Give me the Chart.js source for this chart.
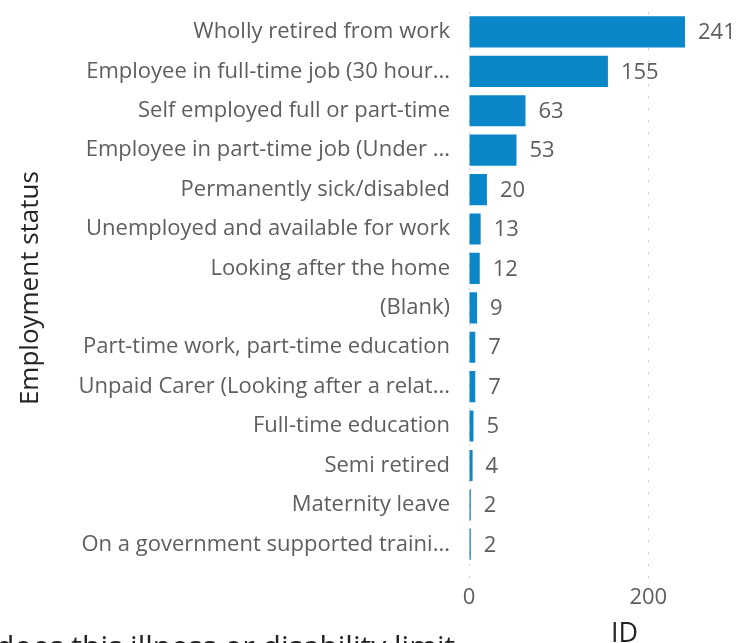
<!DOCTYPE html>
<html>
<head>
<meta charset="utf-8">
<script src="https://cdn.jsdelivr.net/npm/chart.js@4/dist/chart.umd.min.js"></script>
<style>
  html, body { margin: 0; padding: 0; background: #fff; overflow: hidden; }
  #wrap { position: relative; width: 743px; height: 643px; overflow: hidden; }
  #chartBox { position: absolute; left: 0; top: -20px; width: 780px; height: 690px; }
  #nextTitle {
    position: absolute; left: -4px; top: 631px;
    font-family: "Segoe UI", "Open Sans", sans-serif; font-size: 30px; line-height: 30px;
    color: #252423; white-space: nowrap;
  }
</style>
</head>
<body>
<div id="wrap">
  <div id="chartBox"><canvas id="statusChart"></canvas></div>
  <div id="nextTitle">does this illness or disability limit</div>
</div>
<script>
// Employment status counts (ID)
const statusLabels = [
    'Wholly retired from work',
    'Employee in full-time job (30 hour...',
    'Self employed full or part-time',
    'Employee in part-time job (Under ...',
    'Permanently sick/disabled',
    'Unemployed and available for work',
    'Looking after the home',
    '(Blank)',
    'Part-time work, part-time education',
    'Unpaid Carer (Looking after a relat...',
    'Full-time education',
    'Semi retired',
    'Maternity leave',
    'On a government supported traini...'
];
const idCounts = [241, 155, 63, 53, 20, 13, 12, 9, 7, 7, 5, 4, 2, 2];
const xTickValues = [0, 200];

const fontFamily = '"Segoe UI", "Open Sans", sans-serif';
const labelGrey = '#605E5C';

// Writes the count just past the end of each bar
const barValueLabels = {
    id: 'barValueLabels',
    afterDatasetsDraw(chart) {
        const ctx = chart.ctx;
        const meta = chart.getDatasetMeta(0);
        ctx.save();
        ctx.font = '22px ' + fontFamily;
        ctx.fillStyle = labelGrey;
        ctx.textAlign = 'left';
        ctx.textBaseline = 'middle';
        meta.data.forEach((bar, i) => {
            ctx.fillText(String(chart.data.datasets[0].data[i]), bar.x + 13, bar.y + 1);
        });
        ctx.restore();
    }
};

document.addEventListener('DOMContentLoaded', function() {
    const ctx = document.getElementById('statusChart').getContext('2d');
    new Chart(ctx, {
        type: 'bar',
        data: {
            labels: statusLabels,
            datasets: [{
                label: 'ID',
                data: idCounts,
                backgroundColor: '#0a86c9',
                borderWidth: 0,
                barPercentage: 0.79,
                categoryPercentage: 1
            }]
        },
        options: {
            indexAxis: 'y',
            responsive: true,
            maintainAspectRatio: false,
            animation: false,
            layout: {
                padding: { top: 10, right: 0, bottom: 0, left: 0 }
            },
            scales: {
                x: {
                    min: 0,
                    max: 347,
                    afterBuildTicks: scale => {
                        scale.ticks = xTickValues.map(v => ({ value: v }));
                    },
                    afterFit: scale => { scale.height = 106; },
                    border: { display: false, dash: [2, 10] },
                    grid: {
                        color: '#cfcfcf',
                        lineWidth: 1,
                        drawTicks: true,
                        tickLength: 14,
                        tickColor: '#cfcfcf',
                        tickBorderDash: [2, 10]
                    },
                    ticks: {
                        color: labelGrey,
                        padding: 7,
                        font: { family: fontFamily, size: 22 }
                    },
                    title: {
                        display: true,
                        text: 'ID',
                        color: '#252423',
                        font: { family: fontFamily, size: 27 },
                        padding: { top: 0, bottom: 19 }
                    }
                },
                y: {
                    afterFit: scale => { scale.width = 469; },
                    border: { display: false },
                    grid: { display: false, drawTicks: false },
                    ticks: {
                        color: labelGrey,
                        padding: 19,
                        autoSkip: false,
                        font: { family: fontFamily, size: 22 }
                    },
                    title: {
                        display: true,
                        text: 'Employment status',
                        color: '#252423',
                        font: { family: fontFamily, size: 26 },
                        padding: { top: 15, bottom: 0 }
                    }
                }
            },
            plugins: {
                legend: { display: false },
                tooltip: { enabled: false }
            }
        },
        plugins: [barValueLabels]
    });
});
</script>
</body>
</html>
